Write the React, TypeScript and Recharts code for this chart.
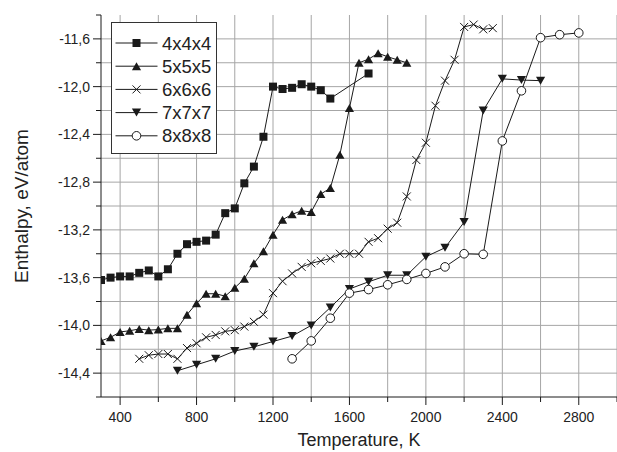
import { LineChart, Line, XAxis, YAxis, CartesianGrid, Legend, Label } from "recharts";

const FONT = '"Liberation Sans", Arial, Helvetica, sans-serif';
const INK = "#1a1a1a";

// temperatures (K) and enthalpy (eV/atom) per cluster size
const t4 = [300, 350, 400, 450, 500, 550, 600, 650, 700, 750, 800, 850, 900, 950, 1000, 1050, 1100, 1150, 1200, 1250, 1300, 1350, 1400, 1450, 1500, 1700];
const h4 = [-13.62, -13.6, -13.59, -13.59, -13.56, -13.54, -13.59, -13.53, -13.4, -13.32, -13.3, -13.29, -13.24, -13.06, -13.02, -12.81, -12.67, -12.42, -12.0, -12.02, -12.01, -11.98, -12.0, -12.03, -12.1, -11.89];

const t5 = [300, 350, 400, 450, 500, 550, 600, 650, 700, 750, 800, 850, 900, 950, 1000, 1050, 1100, 1150, 1200, 1250, 1300, 1350, 1400, 1450, 1500, 1550, 1600, 1650, 1700, 1750, 1800, 1850, 1900];
const h5 = [-14.13, -14.1, -14.055, -14.045, -14.03, -14.04, -14.035, -14.025, -14.025, -13.91, -13.815, -13.735, -13.735, -13.755, -13.685, -13.61, -13.48, -13.38, -13.24, -13.115, -13.07, -13.04, -13.05, -12.9, -12.85, -12.57, -12.18, -11.8, -11.77, -11.72, -11.75, -11.775, -11.8];

const t6 = [500, 550, 600, 650, 700, 750, 800, 850, 900, 950, 1000, 1050, 1100, 1150, 1200, 1250, 1300, 1350, 1400, 1450, 1500, 1550, 1600, 1650, 1700, 1750, 1800, 1850, 1900, 1950, 2000, 2050, 2100, 2150, 2200, 2250, 2300, 2350];
const h6 = [-14.28, -14.25, -14.24, -14.24, -14.28, -14.19, -14.15, -14.1, -14.08, -14.05, -14.04, -14.01, -13.97, -13.91, -13.73, -13.63, -13.565, -13.51, -13.48, -13.46, -13.44, -13.4, -13.4, -13.4, -13.3, -13.27, -13.19, -13.14, -12.92, -12.615, -12.47, -12.16, -11.95, -11.775, -11.5, -11.48, -11.52, -11.51];

const t7 = [700, 800, 900, 1000, 1100, 1200, 1300, 1400, 1500, 1600, 1700, 1800, 1900, 2000, 2100, 2200, 2300, 2400, 2500, 2600];
const h7 = [-14.38, -14.33, -14.28, -14.215, -14.18, -14.135, -14.09, -14.0, -13.85, -13.695, -13.635, -13.58, -13.58, -13.425, -13.35, -13.135, -12.2, -11.935, -11.945, -11.95];

const t8 = [1300, 1400, 1500, 1600, 1700, 1800, 1900, 2000, 2100, 2200, 2300, 2400, 2500, 2600, 2700, 2800];
const h8 = [-14.28, -14.13, -13.94, -13.73, -13.7, -13.66, -13.615, -13.565, -13.51, -13.4, -13.405, -12.455, -12.035, -11.59, -11.565, -11.55];

const xTicks = [400, 600, 800, 1000, 1200, 1400, 1600, 1800, 2000, 2200, 2400, 2600, 2800, 3000];
const yTicks = [-14.6, -14.4, -14.2, -14.0, -13.8, -13.6, -13.4, -13.2, -13.0, -12.8, -12.6, -12.4, -12.2, -12.0, -11.8, -11.6, -11.4];
const yGrid = [-14.4, -14.2, -14.0, -13.8, -13.6, -13.4, -13.2, -13.0, -12.8, -12.6, -12.4, -12.2, -12.0, -11.8, -11.6];

type Kind = "square" | "up" | "cross" | "down" | "circle";

const series: { name: string; kind: Kind; t: number[]; h: number[] }[] = [
  { name: "4x4x4", kind: "square", t: t4, h: h4 },
  { name: "5x5x5", kind: "up", t: t5, h: h5 },
  { name: "6x6x6", kind: "cross", t: t6, h: h6 },
  { name: "7x7x7", kind: "down", t: t7, h: h7 },
  { name: "8x8x8", kind: "circle", t: t8, h: h8 },
];

function Marker({ kind, cx, cy }: { kind: Kind; cx: number; cy: number }) {
  if (kind === "square") return <rect x={cx - 4} y={cy - 4} width={8} height={8} fill={INK} />;
  if (kind === "up")
    return <polygon points={`${cx},${cy - 4} ${cx + 4.6},${cy + 4} ${cx - 4.6},${cy + 4}`} fill={INK} />;
  if (kind === "down")
    return <polygon points={`${cx},${cy + 4} ${cx + 4.6},${cy - 4} ${cx - 4.6},${cy - 4}`} fill={INK} />;
  if (kind === "cross")
    return (
      <g stroke={INK} strokeWidth={1}>
        <line x1={cx - 4} y1={cy - 4} x2={cx + 4} y2={cy + 4} />
        <line x1={cx - 4} y1={cy + 4} x2={cx + 4} y2={cy - 4} />
      </g>
    );
  return <circle cx={cx} cy={cy} r={4.3} fill="#fff" stroke={INK} strokeWidth={1} />;
}

function XTick(props: any) {
  const { x, y, payload } = props;
  const major = payload.value % 400 === 0;
  return (
    <g>
      <line x1={x} y1={y} x2={x} y2={y + (major ? 8 : 5)} stroke={INK} />
      {major && payload.value < 3000 && (
        <text x={x} y={y + 25} textAnchor="middle" fontSize={14} fill="#222" fontFamily={FONT}>
          {payload.value}
        </text>
      )}
    </g>
  );
}

function YTick(props: any) {
  const { x, y, payload } = props;
  const v = payload.value as number;
  const major = Math.round(v * 10) % 4 === 0;
  const showLabel = major && v > -14.5 && v < -11.5;
  return (
    <g>
      <line x1={x - (major ? 8 : 5)} y1={y} x2={x} y2={y} stroke={INK} />
      {showLabel && (
        <text x={x - 11} y={y + 5} textAnchor="end" fontSize={14} fill="#222" fontFamily={FONT}>
          {v.toFixed(1).replace(".", ",")}
        </text>
      )}
    </g>
  );
}

function LegendBox() {
  const rowH = 23.2;
  return (
    <svg width={106} height={132} style={{ display: "block" }}>
      <rect x={0.5} y={0.5} width={105} height={131} fill="#fff" stroke="#333" />
      {series.map((s, i) => {
        const cy = 21 + i * rowH;
        return (
          <g key={s.name}>
            <line x1={4.5} y1={cy} x2={46.5} y2={cy} stroke={INK} />
            <Marker kind={s.kind} cx={25.5} cy={cy} />
            <text x={51} y={cy + 6.5} fontSize={18.5} fill="#222" fontFamily={FONT}>
              {s.name}
            </text>
          </g>
        );
      })}
    </svg>
  );
}

export default function App() {
  return (
    <div style={{ position: "absolute", left: 0, top: 0, width: 617, height: 452, background: "#fff", fontFamily: FONT }}>
      <LineChart width={617} height={452} margin={{ top: 15, right: 0, bottom: 0, left: 0 }}>
        <CartesianGrid stroke="#a6a6a6" strokeWidth={1} verticalValues={xTicks} horizontalValues={yGrid} />
        <XAxis
          type="number"
          dataKey="t"
          domain={[300, 3000]}
          ticks={xTicks}
          interval={0}
          height={55}
          tickSize={0}
          tickMargin={0}
          tickLine={false}
          tick={<XTick />}
          axisLine={{ stroke: INK }}
          allowDataOverflow
        >
          <Label
            value="Temperature, K"
            position="insideBottom"
            offset={6}
            style={{ fontSize: 18, fill: "#222", fontFamily: FONT }}
          />
        </XAxis>
        <YAxis
          type="number"
          domain={[-14.6, -11.4]}
          ticks={yTicks}
          interval={0}
          width={101}
          tickSize={0}
          tickMargin={0}
          tickLine={false}
          tick={<YTick />}
          axisLine={{ stroke: INK }}
          allowDataOverflow
        >
          <Label
            value="Enthalpy, eV/atom"
            angle={-90}
            position="insideLeft"
            offset={21}
            style={{ fontSize: 19, fill: "#222", fontFamily: FONT, textAnchor: "middle" }}
          />
        </YAxis>
        {series.map((s) => (
          <Line
            key={s.name}
            name={s.name}
            data={s.t.map((t, i) => ({ t, v: s.h[i] }))}
            dataKey="v"
            type="linear"
            stroke={INK}
            strokeWidth={1}
            dot={(p: any) => <Marker key={`${s.name}-${p.index}`} kind={s.kind} cx={p.cx} cy={p.cy} />}
            activeDot={false}
            isAnimationActive={false}
          />
        ))}
        <Legend
          layout="vertical"
          align="center"
          verticalAlign="middle"
          content={() => <LegendBox />}
          wrapperStyle={{ left: 111, top: 22, width: 106, height: 132, right: "auto", bottom: "auto" }}
        />
      </LineChart>
    </div>
  );
}
